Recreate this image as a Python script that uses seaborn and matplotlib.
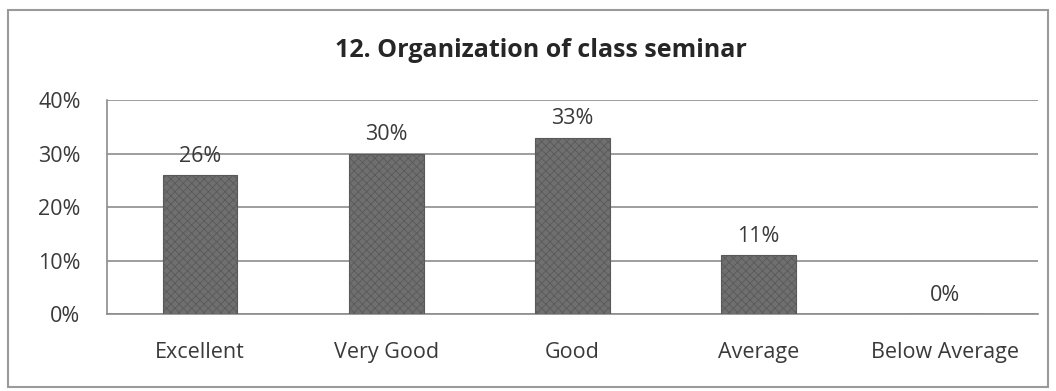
import matplotlib
matplotlib.use("Agg")
import matplotlib.pyplot as plt
import pandas as pd
import seaborn as sns
from matplotlib.patches import Rectangle
from matplotlib.ticker import FixedLocator, PercentFormatter

categories = ["Excellent", "Very Good", "Good", "Average", "Below Average"]
percent = [26, 30, 33, 11, 0]
title = "12. Organization of class seminar"

sns.set_theme(style="white")
plt.rcParams["font.family"] = ["Open Sans", "DejaVu Sans"]
plt.rcParams["hatch.linewidth"] = 0.6

df = pd.DataFrame({"rating": categories, "share": percent})

fig = plt.figure(figsize=(10.56, 3.91), dpi=100)
ax = fig.add_axes([0.1013, 0.197, 0.8817, 0.547])

sns.barplot(data=df, x="rating", y="share", color="#6f6f6f", width=0.4,
            saturation=1, ax=ax, zorder=3)
for bar in ax.patches:
    bar.set_hatch("xxxx")
    bar.set_edgecolor("#595959")
    bar.set_linewidth(0.8)

ax.bar_label(ax.containers[0], labels=[f"{v}%" for v in percent],
             padding=6, fontsize=15.5, color="#3a3a3a")

ax.set_ylim(0, 40)
ax.set_xlim(-0.5, len(categories) - 0.5)
ax.yaxis.set_major_locator(FixedLocator([0, 10, 20, 30, 40]))
ax.yaxis.set_major_formatter(PercentFormatter(decimals=0))
ax.grid(axis="y", color="#8c8c8c", linewidth=1.2, zorder=0)
ax.set_xlabel("")
ax.set_ylabel("")

for side in ["top", "right"]:
    ax.spines[side].set_visible(False)
for side in ["left", "bottom"]:
    ax.spines[side].set_color("#8c8c8c")
    ax.spines[side].set_linewidth(1.2)

ax.tick_params(axis="y", labelsize=15.5, labelcolor="#3a3a3a", length=5,
               color="#8c8c8c", direction="out", pad=14)
ax.tick_params(axis="x", labelsize=15.5, labelcolor="#3a3a3a", length=0, pad=20)
ax.set_xticks(range(len(categories)))
ax.set_xticks([i + 0.5 for i in range(len(categories))], minor=True)
ax.tick_params(axis="x", which="minor", length=5, color="#8c8c8c")

fig.text(0.512, 0.87, title, ha="center", va="center", fontsize=18,
         fontweight="bold", color="#262626")

fig.patches.append(Rectangle((0.008, 0.01), 0.984, 0.965, transform=fig.transFigure,
                             fill=False, edgecolor="#9a9a9a", linewidth=1.5))

fig.savefig("out.png", dpi=100, facecolor="white")
